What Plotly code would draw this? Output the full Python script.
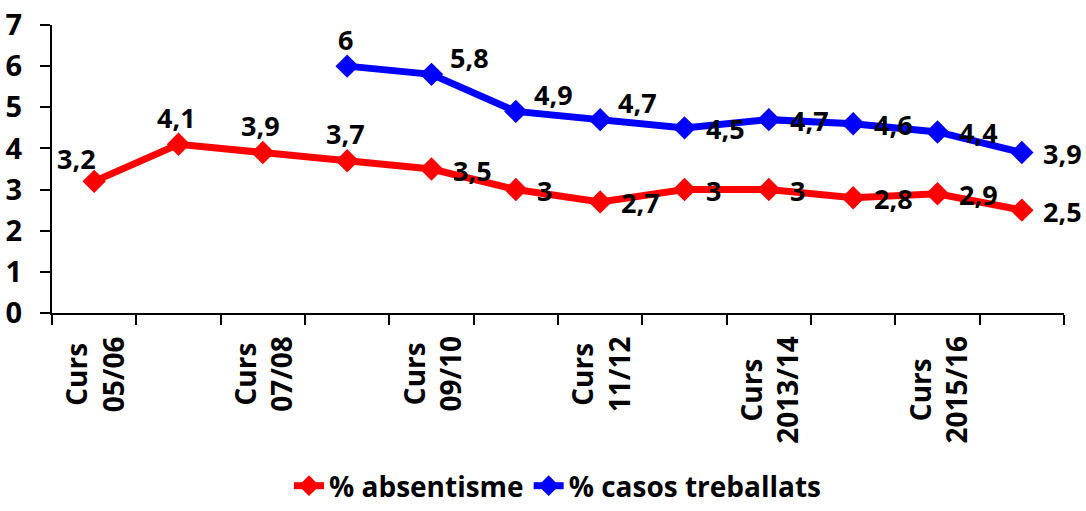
import plotly.graph_objects as go

# School years (one point per year) and the two series, in percent
cursos = ["Curs 05/06", "Curs 06/07", "Curs 07/08", "Curs 08/09", "Curs 09/10",
          "Curs 10/11", "Curs 11/12", "Curs 12/13", "Curs 2013/14", "Curs 2014/15",
          "Curs 2015/16", "Curs 2016/17"]
absentisme = [3.2, 4.1, 3.9, 3.7, 3.5, 3.0, 2.7, 3.0, 3.0, 2.8, 2.9, 2.5]
casos_treballats = [None, None, None, 6.0, 5.8, 4.9, 4.7, 4.5, 4.7, 4.6, 4.4, 3.9]

# Only every second year is labelled on the axis
label_idx = [0, 2, 4, 6, 8, 10]
label_text = ["Curs<br>05/06", "Curs<br>07/08", "Curs<br>09/10", "Curs<br>11/12",
              "Curs<br>2013/14", "Curs<br>2015/16"]

# Where each value label sits relative to its point
pos_abs = ["top-left", "top", "top", "top"] + ["right"] * 8
pos_cas = [None, None, None, "top", "top-right", "top-right", "top-right"] + ["right"] * 5

FONT = "Open Sans"
RED = "#ff0000"
BLUE = "#0000ff"

x_idx = list(range(len(cursos)))

fig = go.Figure()
fig.add_trace(go.Scatter(
    x=x_idx, y=absentisme, name="% absentisme", mode="lines+markers",
    line=dict(color=RED, width=7), marker=dict(symbol="diamond", size=18, color=RED),
))
fig.add_trace(go.Scatter(
    x=x_idx, y=casos_treballats, name="% casos treballats", mode="lines+markers",
    line=dict(color=BLUE, width=7), marker=dict(symbol="diamond", size=18, color=BLUE),
))

OFFSETS = {
    "top": dict(xanchor="center", xshift=-2, yshift=27),
    "top-left": dict(xanchor="center", xshift=-18, yshift=23),
    "top-right": dict(xanchor="left", xshift=17, yshift=17),
    "right": dict(xanchor="left", xshift=20, yshift=-1),
}


def fmt(v):
    return f"{v:g}".replace(".", ",")


for values, places in ((absentisme, pos_abs), (casos_treballats, pos_cas)):
    for i, (v, p) in enumerate(zip(values, places)):
        if v is None or p is None:
            continue
        fig.add_annotation(
            x=i, y=v, text=fmt(v), showarrow=False, yanchor="middle", borderpad=0,
            font=dict(family=FONT, size=27, color="black", weight="bold"),
            **OFFSETS[p],
        )

# Category labels under the axis, rotated, with both lines centred
for i, t in zip(label_idx, label_text):
    fig.add_annotation(
        x=i, y=0, xref="x", yref="y", text=t, showarrow=False,
        textangle=-90, align="center", xanchor="center", yanchor="top",
        yshift=-22, borderpad=0,
        font=dict(family=FONT, size=28, color="black", weight="bold"),
    )

fig.update_layout(
    width=1086, height=511,
    margin=dict(l=52, r=22, t=25, b=198, pad=0),
    plot_bgcolor="white", paper_bgcolor="white",
    font=dict(family=FONT, color="black", weight="bold"),
    showlegend=True,
    legend=dict(
        orientation="h", x=0.5, xanchor="center",
        yref="container", y=0.0, yanchor="bottom",
        font=dict(family=FONT, size=28, color="black", weight="bold"),
        bgcolor="rgba(0,0,0,0)",
    ),
)

fig.update_xaxes(
    range=[-0.5, len(cursos) - 0.5], automargin=False,
    tickmode="array", tickvals=label_idx, ticktext=[""] * len(label_idx),
    ticks="",
    showline=True, linecolor="black", linewidth=2, showgrid=False, zeroline=False,
    minor=dict(
        tickmode="array", tickvals=[i - 0.5 for i in range(len(cursos) + 1)],
        ticks="outside", ticklen=10, tickwidth=2, tickcolor="black", showgrid=False,
    ),
)
fig.update_yaxes(
    range=[0, 7], dtick=1, tick0=0, automargin=False,
    ticks="outside", ticklen=10, tickwidth=2, tickcolor="black",
    ticklabelstandoff=12,
    tickfont=dict(family=FONT, size=29, color="black", weight="bold"),
    showline=True, linecolor="black", linewidth=2, showgrid=False, zeroline=False,
)

fig.write_html("out.html")
